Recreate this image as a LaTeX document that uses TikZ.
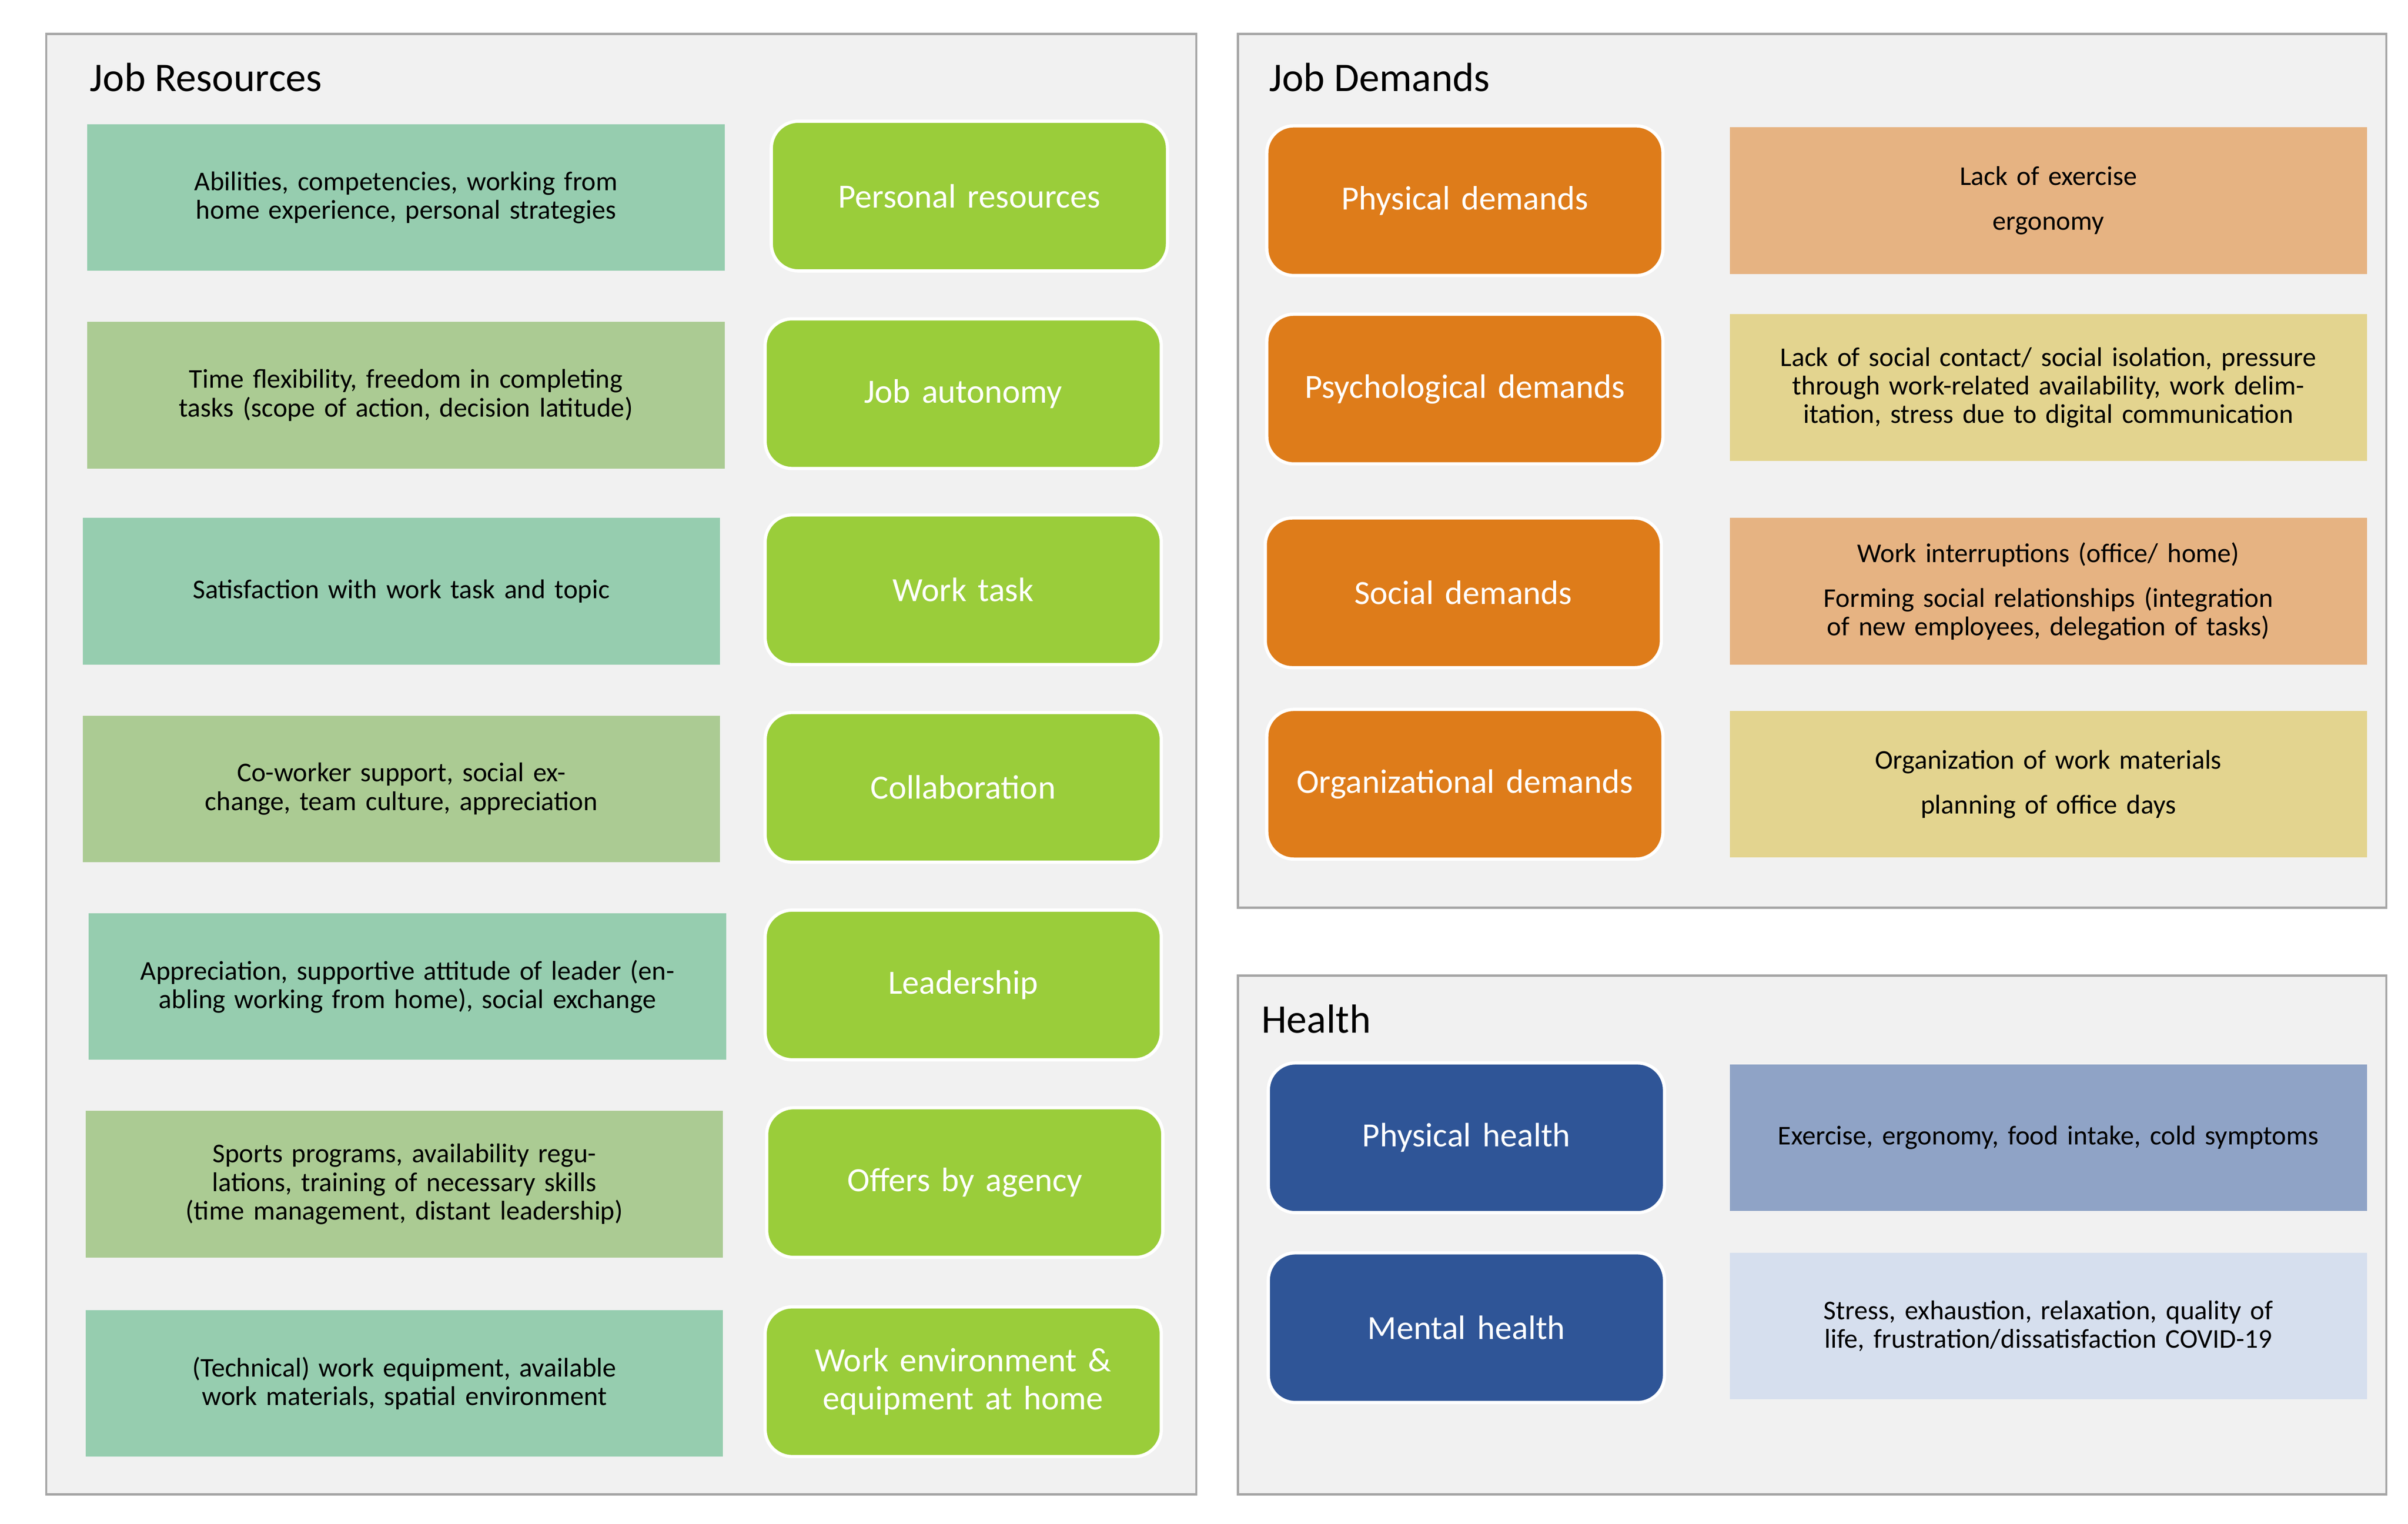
\documentclass[tikz,border=0pt]{standalone}
\usepackage{fontspec}
\setmainfont{Carlito}
\usetikzlibrary{positioning}
\definecolor{panelgray}{HTML}{F1F1F1}
\definecolor{panelline}{HTML}{A6A6A6}
\definecolor{teal}{HTML}{96CDAF}
\definecolor{sage}{HTML}{ABCB93}
\definecolor{lime}{HTML}{9ACD3A}
\definecolor{dorange}{HTML}{DE7C1A}
\definecolor{peach}{HTML}{E6B382}
\definecolor{sand}{HTML}{E3D48F}
\definecolor{dblue}{HTML}{2F5597}
\definecolor{mblue}{HTML}{8FA3C6}
\definecolor{lblue}{HTML}{D6DFEE}

\begin{document}
\begin{tikzpicture}[x=0.02cm,y=-0.02cm,
  panel/.style={draw=panelline,line width=0.8pt,fill=panelgray},
  title/.style={anchor=west,font=\fontsize{15}{17}\selectfont},
  desc/.style={minimum width=8.26cm,minimum height=1.9cm,text width=7.9cm,align=center,
    inner sep=0pt,font=\fontsize{10}{10.5}\selectfont},
  cat/.style={rounded corners=0.35cm,draw=white,line width=1.2pt,minimum width=5.1cm,
    minimum height=1.94cm,text width=4.9cm,align=center,text=white,
    font=\fontsize{12.5}{14}\selectfont}]
\useasboundingbox (0,0) rectangle (1560,987);
% panels
\draw[panel] (30,22) rectangle (775,968);
\draw[panel] (802,22) rectangle (1546,588);
\draw[panel] (802,632) rectangle (1546,968);
\node[title] (tres) at (52,50) {Job Resources};
\node[title] (tdem) at (816,50) {Job Demands};
\node[title] (thea) at (811,660) {Health};
% job resources
\node[desc,fill=teal] (d1) at (263,128) {Abilities, competencies, working from home experience, personal strategies};
\node[cat,fill=lime] (c1) at (628,127) {Personal resources};
\node[desc,fill=sage] (d2) at (263,256) {Time flexibility, freedom in completing tasks (scope of action, decision latitude)};
\node[cat,fill=lime] (c2) at (624,255) {Job autonomy};
\node[desc,fill=teal] (d3) at (260,383) {Satisfaction with work task and topic};
\node[cat,fill=lime] (c3) at (624,382) {Work task};
\node[desc,fill=sage] (d4) at (260,511) {Co-worker support, social exchange, team culture, appreciation};
\node[cat,fill=lime] (c4) at (624,510) {Collaboration};
\node[desc,fill=teal] (d5) at (264,639) {Appreciation, supportive attitude of leader (enabling working from home), social exchange};
\node[cat,fill=lime] (c5) at (624,638) {Leadership};
\node[desc,fill=sage] (d6) at (262,767) {Sports programs, availability regulations, training of necessary skills (time management, distant leadership)};
\node[cat,fill=lime] (c6) at (625,766) {Offers by agency};
\node[desc,fill=teal] (d7) at (262,896) {(Technical) work equipment, available work materials, spatial environment};
\node[cat,fill=lime] (c7) at (624,895) {Work environment \& equipment at home};
% job demands
\node[cat,fill=dorange] (o1) at (949,130) {Physical demands};
\node[desc,fill=peach] (e1) at (1327,130) {Lack of exercise\\[6pt]ergonomy};
\node[cat,fill=dorange] (o2) at (949,252) {Psychological demands};
\node[desc,fill=sand] (e2) at (1327,251) {Lack of social contact/ social isolation, pressure through work-related availability, work delimitation, stress due to digital communication};
\node[cat,fill=dorange] (o3) at (948,384) {Social demands};
\node[desc,fill=peach] (e3) at (1327,383) {Work interruptions (office/ home)\\[6pt]Forming social relationships (integration of new employees, delegation of tasks)};
\node[cat,fill=dorange] (o4) at (949,508) {Organizational demands};
\node[desc,fill=sand] (e4) at (1327,508) {Organization of work materials\\[6pt]planning of office days};
% health
\node[cat,fill=dblue] (h1) at (950,737) {Physical health};
\node[desc,fill=mblue] (g1) at (1327,737) {Exercise, ergonomy, food intake, cold symptoms};
\node[cat,fill=dblue] (h2) at (950,860) {Mental health};
\node[desc,fill=lblue] (g2) at (1327,859) {Stress, exhaustion, relaxation, quality of life, frustration/dissatisfaction COVID-19};
\end{tikzpicture}
\end{document}
